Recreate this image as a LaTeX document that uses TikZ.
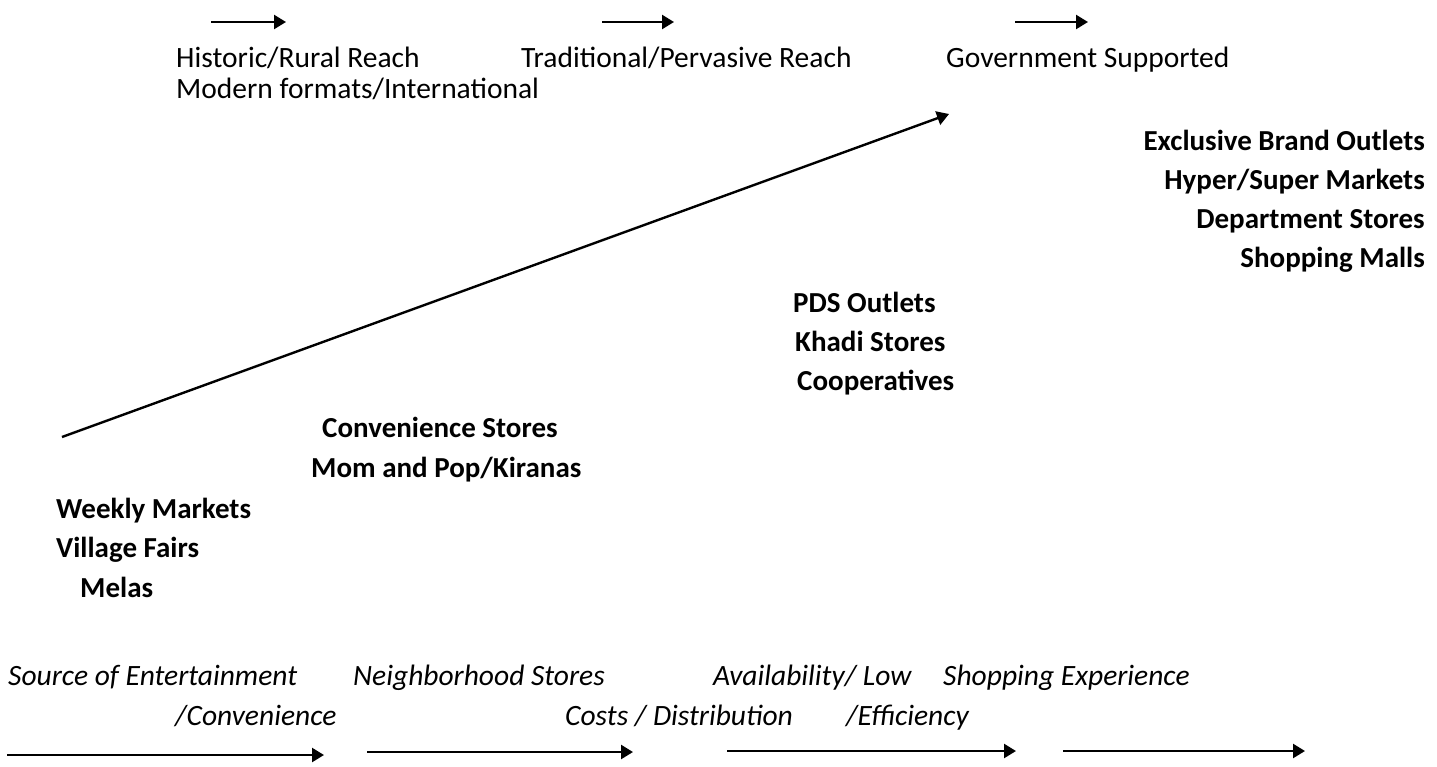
\documentclass[tikz,border=0pt]{standalone}
\usepackage{fontspec}
\setmainfont{Carlito}
\usetikzlibrary{arrows.meta}
\begin{document}
\begin{tikzpicture}[x=1pt,y=-1pt,
  lbl/.style={inner sep=0pt,anchor=base west,font=\fontsize{29.5}{34}\selectfont},
  blbl/.style={inner sep=0pt,font=\fontsize{29}{34}\selectfont\bfseries},
  ilbl/.style={inner sep=0pt,anchor=base west,font=\fontsize{29.5}{34}\selectfont\itshape},
  arr/.style={line width=2.4pt,-{Triangle[length=12pt,width=14pt]}}]
\useasboundingbox (0,0) rectangle (1437,766);
% top arrows
\coordinate (t1a) at (211,22); \coordinate (t1b) at (286,22);
\coordinate (t2a) at (602,22); \coordinate (t2b) at (674,22);
\coordinate (t3a) at (1015,22); \coordinate (t3b) at (1088,22);
\draw[arr] (t1a) -- (t1b);
\draw[arr] (t2a) -- (t2b);
\draw[arr] (t3a) -- (t3b);
% top labels
\node[lbl] (hist) at (176,67) {Historic/Rural Reach};
\node[lbl] (trad) at (521,67) {Traditional/Pervasive Reach};
\node[lbl] (gov) at (946,67) {Government Supported};
\node[lbl] (mod) at (176,98) {Modern formats/International};
% diagonal
\coordinate (d1) at (62,437); \coordinate (d2) at (949,114);
\draw[arr] (d1) -- (d2);
% right stack
\node[blbl,anchor=base east] (ebo) at (1425,150) {Exclusive Brand Outlets};
\node[blbl,anchor=base east] (hsm) at (1425,189) {Hyper/Super Markets};
\node[blbl,anchor=base east] (dep) at (1425,228) {Department Stores};
\node[blbl,anchor=base east] (mall) at (1425,267) {Shopping Malls};
% middle
\node[blbl,anchor=base west] (pds) at (793,312) {PDS Outlets};
\node[blbl,anchor=base west] (khadi) at (795,351) {Khadi Stores};
\node[blbl,anchor=base west] (coop) at (797,390) {Cooperatives};
\node[blbl,anchor=base west] (conv) at (322,437) {Convenience Stores};
\node[blbl,anchor=base west] (mom) at (311,477) {Mom and Pop/Kiranas};
\node[blbl,anchor=base west] (week) at (56,518) {Weekly Markets};
\node[blbl,anchor=base west] (vill) at (56,557) {Village Fairs};
\node[blbl,anchor=base west] (mela) at (80,597) {Melas};
% bottom labels
\node[ilbl] (src) at (8,685) {Source of Entertainment};
\node[ilbl] (nbh) at (353,685) {Neighborhood Stores};
\node[ilbl] (avl) at (713,685) {Availability/ Low};
\node[ilbl] (shp) at (943,685) {Shopping Experience};
\node[ilbl] (cnv) at (175,725) {/Convenience};
\node[ilbl] (cst) at (565,725) {Costs / Distribution};
\node[ilbl] (eff) at (846,725) {/Efficiency};
% bottom arrows
\coordinate (b1a) at (7,755); \coordinate (b1b) at (324,755);
\coordinate (b2a) at (367,752); \coordinate (b2b) at (633,752);
\coordinate (b3a) at (727,751); \coordinate (b3b) at (1016,751);
\coordinate (b4a) at (1063,751); \coordinate (b4b) at (1305,751);
\draw[arr] (b1a) -- (b1b);
\draw[arr] (b2a) -- (b2b);
\draw[arr] (b3a) -- (b3b);
\draw[arr] (b4a) -- (b4b);
\end{tikzpicture}
\end{document}
